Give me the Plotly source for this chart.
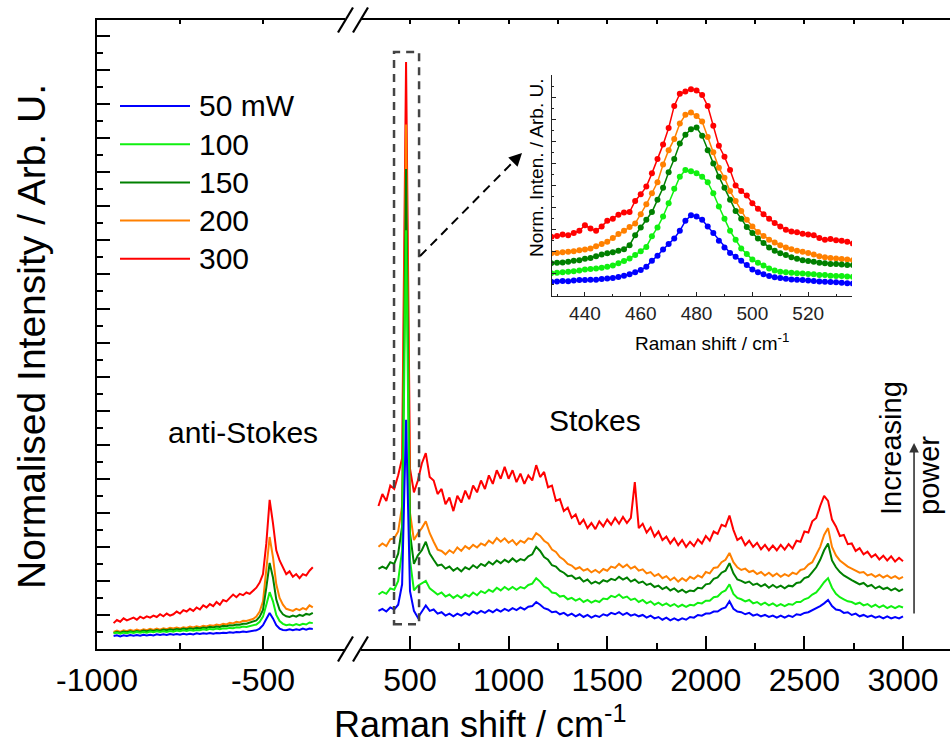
import numpy as np
import plotly.graph_objects as go

# ---------------------------------------------------------------------------
# Raman spectra of the sample at five laser powers (normalised, offset)
# ---------------------------------------------------------------------------
powers = ["50 mW", "100", "150", "200", "300"]
colors = ["#0000FF", "#10F010", "#008000", "#FF8000", "#FF0000"]

# Stokes side, 340 ... 3000 cm-1 every 20 cm-1
stokes_shift = np.arange(340, 3001, 20)
stokes_50 = [
    1.12, 1.18, 1.1, 1.22, 1.16, 1.3, 1.9, 6.73, 1.7, 1.12,
    0.92, 1.1, 1.28, 1.12, 1.16, 1.04, 1.08, 0.98, 1.04, 0.96,
    1.04, 0.98, 1.06, 1.0, 1.1, 1.04, 1.12, 1.06, 1.14, 1.08,
    1.16, 1.1, 1.18, 1.12, 1.2, 1.14, 1.22, 1.16, 1.24, 1.26,
    1.38, 1.3, 1.2, 1.16, 1.08, 1.1, 1.02, 1.06, 0.98, 1.04,
    0.96, 1.02, 0.94, 1.0, 0.92, 0.98, 0.94, 1.02, 0.98, 1.06,
    1.02, 1.08, 1.0, 1.06, 0.98, 1.02, 0.96, 1.0, 0.92, 0.98,
    0.9, 0.94, 0.86, 0.92, 0.84, 0.9, 0.84, 0.9, 0.86, 0.94,
    0.92, 1.0, 0.98, 1.04, 1.04, 1.1, 1.1, 1.18, 1.22, 1.4,
    1.18, 1.1, 1.08, 1.02, 1.06, 0.98, 1.02, 0.96, 1.0, 0.94,
    0.98, 0.92, 0.98, 0.92, 0.98, 0.94, 1.02, 1.0, 1.06, 1.08,
    1.14, 1.18, 1.26, 1.34, 1.44, 1.26, 1.16, 1.14, 1.06, 1.08,
    1.0, 1.04, 0.96, 1.0, 0.94, 0.98, 0.92, 0.96, 0.9, 0.96,
    0.9, 0.94, 0.9, 0.96,
]
stokes_100 = [
    1.6, 1.68, 1.62, 1.78, 1.74, 2.0, 2.9, 12.3, 2.6, 1.72,
    1.86, 1.92, 2.0, 1.78, 1.7, 1.6, 1.66, 1.54, 1.6, 1.5,
    1.58, 1.5, 1.6, 1.54, 1.66, 1.58, 1.7, 1.64, 1.74, 1.68,
    1.8, 1.72, 1.82, 1.74, 1.82, 1.74, 1.82, 1.78, 1.88, 1.92,
    2.08, 1.98, 1.84, 1.78, 1.66, 1.64, 1.54, 1.56, 1.46, 1.5,
    1.42, 1.48, 1.38, 1.44, 1.36, 1.42, 1.38, 1.48, 1.46, 1.56,
    1.52, 1.6, 1.5, 1.54, 1.44, 1.48, 1.38, 1.44, 1.34, 1.4,
    1.3, 1.36, 1.28, 1.34, 1.26, 1.32, 1.24, 1.3, 1.24, 1.3,
    1.28, 1.36, 1.34, 1.42, 1.42, 1.52, 1.54, 1.66, 1.72, 1.9,
    1.62, 1.5, 1.46, 1.4, 1.44, 1.34, 1.38, 1.3, 1.36, 1.28,
    1.34, 1.26, 1.32, 1.26, 1.32, 1.3, 1.38, 1.38, 1.46, 1.5,
    1.6, 1.66, 1.8, 1.96, 2.08, 1.8, 1.62, 1.52, 1.46, 1.4,
    1.38, 1.32, 1.36, 1.28, 1.32, 1.24, 1.3, 1.22, 1.28, 1.2,
    1.26, 1.2, 1.26, 1.22,
]
stokes_150 = [
    2.35, 2.42, 2.36, 2.55, 2.5, 2.8, 3.6, 14.1, 3.4, 2.5,
    2.75, 2.9, 3.15, 2.8, 2.62, 2.45, 2.48, 2.36, 2.42, 2.3,
    2.38, 2.28, 2.4, 2.34, 2.46, 2.38, 2.5, 2.44, 2.56, 2.48,
    2.6, 2.52, 2.62, 2.55, 2.66, 2.56, 2.64, 2.6, 2.72, 2.78,
    3.0, 2.88, 2.7, 2.62, 2.46, 2.42, 2.3, 2.24, 2.14, 2.16,
    2.06, 2.1, 1.98, 2.04, 1.92, 1.98, 1.92, 2.02, 1.98, 2.06,
    2.02, 2.12, 2.04, 2.1, 1.98, 2.04, 1.94, 1.98, 1.88, 1.92,
    1.82, 1.86, 1.76, 1.82, 1.72, 1.78, 1.68, 1.74, 1.66, 1.72,
    1.7, 1.8, 1.78, 1.9, 1.92, 2.06, 2.1, 2.24, 2.3, 2.52,
    2.22, 2.04, 2.0, 1.94, 1.98, 1.88, 1.92, 1.84, 1.9, 1.8,
    1.88, 1.8, 1.86, 1.78, 1.86, 1.84, 1.94, 1.96, 2.08, 2.12,
    2.26, 2.4, 2.62, 2.9, 3.1, 2.6, 2.4, 2.26, 2.16, 2.08,
    2.02, 1.96, 1.9, 1.94, 1.84, 1.88, 1.78, 1.84, 1.76, 1.8,
    1.72, 1.78, 1.7, 1.76,
]
stokes_200 = [
    3.0, 3.1, 3.02, 3.22, 3.25, 3.45, 4.2, 15.4, 4.0, 3.2,
    3.4, 3.55, 3.75, 3.4, 3.15, 2.92, 2.88, 2.78, 2.9, 2.82,
    2.98, 2.88, 3.02, 2.94, 3.06, 2.98, 3.1, 3.04, 3.18, 3.1,
    3.26, 3.15, 3.25, 3.12, 3.2, 3.06, 3.18, 3.12, 3.25, 3.22,
    3.4, 3.32, 3.18, 3.1, 2.92, 2.85, 2.7, 2.62, 2.5, 2.45,
    2.35, 2.4, 2.3, 2.35, 2.25, 2.32, 2.24, 2.35, 2.3, 2.42,
    2.38, 2.5, 2.4, 2.48, 2.36, 2.42, 2.3, 2.34, 2.22, 2.26,
    2.14, 2.2, 2.08, 2.14, 2.02, 2.1, 1.98, 2.08, 2.0, 2.12,
    2.06, 2.16, 2.1, 2.26, 2.22, 2.38, 2.4, 2.55, 2.62, 2.82,
    2.55, 2.4, 2.32, 2.36, 2.26, 2.3, 2.2, 2.26, 2.16, 2.24,
    2.14, 2.22, 2.12, 2.2, 2.14, 2.24, 2.2, 2.32, 2.35, 2.48,
    2.55, 2.78, 3.0, 3.35, 3.55, 3.0, 2.75, 2.6, 2.5, 2.42,
    2.36, 2.3, 2.24, 2.26, 2.16, 2.2, 2.12, 2.18, 2.1, 2.16,
    2.08, 2.14, 2.06, 2.12,
]
stokes_300 = [
    4.2, 4.55, 4.35, 4.8, 4.7, 5.1, 5.6, 17.24, 5.3, 4.6,
    4.95, 5.45, 5.75, 5.05, 4.95, 4.55, 4.7, 4.25, 4.45, 4.05,
    4.5, 4.3, 4.65, 4.4, 4.8, 4.6, 4.95, 4.7, 5.1, 4.85,
    5.25, 5.0, 5.35, 5.0, 5.25, 4.9, 5.15, 4.85, 5.1, 4.95,
    5.4, 5.05, 5.2, 4.75, 4.8, 4.35, 4.4, 4.05, 4.15, 3.85,
    3.95, 3.65, 3.8, 3.55, 3.7, 3.52, 3.75, 3.6, 3.8, 3.65,
    3.85, 3.68, 3.88, 3.7, 3.85, 4.9, 3.55, 3.68, 3.42, 3.57,
    3.3, 3.45, 3.2, 3.3, 3.1, 3.25, 3.05, 3.2, 3.0, 3.15,
    3.02, 3.22, 3.1, 3.32, 3.18, 3.45, 3.38, 3.65, 3.6, 3.92,
    3.5, 3.2, 3.28, 3.05, 3.18, 3.0, 3.12, 2.93, 3.06, 2.9,
    3.04, 2.9, 3.06, 2.92, 3.08, 2.95, 3.18, 3.15, 3.45, 3.42,
    3.75, 3.85, 4.2, 4.5, 4.35, 3.8, 3.6, 3.32, 3.35, 3.08,
    3.1, 2.88, 2.96, 2.78, 2.86, 2.7, 2.78, 2.63, 2.74, 2.6,
    2.72, 2.57, 2.68, 2.58,
]

# anti-Stokes side, -950 ... -350 cm-1 every 10 cm-1
anti_shift = np.arange(-950, -349, 10)
anti_50 = [
    0.38, 0.4, 0.37, 0.4, 0.38, 0.41, 0.39, 0.41, 0.39, 0.42,
    0.4, 0.42, 0.4, 0.43, 0.41, 0.43, 0.41, 0.44, 0.42, 0.44,
    0.42, 0.45, 0.43, 0.45, 0.43, 0.46, 0.44, 0.46, 0.45, 0.47,
    0.45, 0.47, 0.46, 0.48, 0.47, 0.49, 0.48, 0.5, 0.49, 0.51,
    0.5, 0.52, 0.53, 0.55, 0.6, 0.7, 0.88, 1.06, 0.9, 0.7,
    0.6, 0.56, 0.55, 0.58, 0.55, 0.58, 0.56, 0.6, 0.57, 0.6,
    0.59,
]
anti_100 = [
    0.46, 0.48, 0.45, 0.48, 0.46, 0.49, 0.47, 0.5, 0.48, 0.5,
    0.48, 0.51, 0.49, 0.52, 0.5, 0.52, 0.5, 0.53, 0.51, 0.54,
    0.52, 0.55, 0.53, 0.56, 0.54, 0.56, 0.55, 0.58, 0.56, 0.59,
    0.57, 0.6, 0.58, 0.61, 0.6, 0.62, 0.61, 0.64, 0.63, 0.66,
    0.65, 0.67, 0.69, 0.72, 0.8, 0.95, 1.3, 1.67, 1.4, 1.0,
    0.82, 0.74, 0.7, 0.72, 0.69, 0.73, 0.7, 0.74, 0.72, 0.78,
    0.76,
]
anti_150 = [
    0.47, 0.5, 0.48, 0.51, 0.49, 0.52, 0.5, 0.53, 0.51, 0.54,
    0.52, 0.55, 0.53, 0.56, 0.54, 0.57, 0.55, 0.58, 0.56, 0.59,
    0.57, 0.6, 0.58, 0.61, 0.59, 0.62, 0.6, 0.63, 0.62, 0.65,
    0.63, 0.66, 0.65, 0.68, 0.67, 0.7, 0.69, 0.72, 0.71, 0.74,
    0.74, 0.77, 0.79, 0.84, 0.95, 1.15, 1.8, 2.53, 2.1, 1.45,
    1.15, 1.02, 0.96, 0.94, 0.98, 0.95, 1.0, 0.97, 1.03, 1.01,
    1.06,
]
anti_200 = [
    0.5, 0.54, 0.5, 0.55, 0.52, 0.56, 0.53, 0.57, 0.54, 0.58,
    0.55, 0.59, 0.56, 0.6, 0.57, 0.61, 0.58, 0.62, 0.6, 0.63,
    0.6, 0.64, 0.62, 0.66, 0.63, 0.67, 0.64, 0.68, 0.66, 0.7,
    0.68, 0.72, 0.7, 0.74, 0.72, 0.77, 0.75, 0.8, 0.78, 0.83,
    0.82, 0.86, 0.88, 0.95, 1.1, 1.4, 2.3, 3.29, 2.7, 1.9,
    1.5, 1.3, 1.18, 1.15, 1.12, 1.18, 1.14, 1.2, 1.16, 1.28,
    1.22,
]
anti_300 = [
    0.76, 0.85, 0.8, 0.9, 0.84, 0.88, 0.92, 0.86, 0.95, 0.9,
    0.96, 0.92, 0.98, 0.94, 1.02, 0.96, 1.04, 0.98, 1.02, 1.1,
    1.04, 1.14, 1.1, 1.18, 1.12, 1.22, 1.16, 1.28, 1.22, 1.32,
    1.26, 1.38, 1.3, 1.44, 1.4, 1.5, 1.6, 1.52, 1.62, 1.58,
    1.66, 1.62, 1.72, 1.8, 1.95, 2.2, 3.1, 4.38, 3.7, 2.9,
    2.6, 2.4, 2.2, 2.28, 2.12, 2.2, 2.08, 2.2, 2.16, 2.3,
    2.4,
]

# zoom on the 480 cm-1 band, 428 ... 536 cm-1 every 2 cm-1
inset_shift = np.arange(428, 537, 2)
inset_50 = [
    0.65, 0.66, 0.68, 0.67, 0.7, 0.72, 0.72, 0.73, 0.74, 0.77,
    0.79, 0.82, 0.86, 0.92, 0.98, 1.07, 1.18, 1.32, 1.6, 1.82,
    2.1, 2.35, 2.6, 2.95, 3.4, 3.65, 3.6, 3.45, 3.15, 2.85,
    2.5, 2.2, 1.95, 1.78, 1.6, 1.4, 1.2, 1.08, 0.98, 0.9,
    0.85, 0.82, 0.78, 0.75, 0.73, 0.72, 0.7, 0.68, 0.66, 0.65,
    0.63, 0.62, 0.6, 0.58, 0.57,
]
inset_100 = [
    1.03, 1.05, 1.08, 1.1, 1.12, 1.15, 1.2, 1.22, 1.25, 1.28,
    1.32, 1.38, 1.48, 1.58, 1.7, 1.85, 2.02, 2.22, 2.7, 3.1,
    3.6, 4.2, 4.85, 5.4, 5.7, 5.65, 5.55, 5.4, 5.15, 4.65,
    4.05, 3.5, 2.95, 2.55, 2.15, 1.9, 1.65, 1.5, 1.38, 1.25,
    1.15, 1.1, 1.08, 1.05, 1.03, 1.02, 1.0, 0.98, 0.95, 0.95,
    0.92, 0.9, 0.9, 0.88, 0.87,
]
inset_150 = [
    1.48, 1.5, 1.52, 1.55, 1.6, 1.62, 1.68, 1.72, 1.8, 1.88,
    1.93, 1.98, 2.05, 2.12, 2.3, 2.75, 3.1, 3.45, 3.8, 4.35,
    4.9, 5.6, 6.2, 6.9, 7.3, 7.55, 7.62, 7.25, 6.6, 6.0,
    5.4, 4.9, 4.35, 3.85, 3.5, 3.12, 2.85, 2.6, 2.4, 2.2,
    2.05, 1.93, 1.85, 1.75, 1.68, 1.62, 1.58, 1.55, 1.5, 1.48,
    1.45, 1.45, 1.42, 1.4, 1.4,
]
inset_200 = [
    1.93, 1.95, 1.98, 2.0, 2.03, 2.07, 2.1, 2.15, 2.25, 2.35,
    2.45, 2.62, 2.8, 2.95, 3.12, 3.28, 3.7, 4.15, 4.65, 5.15,
    5.95, 6.6, 7.1, 7.8, 8.2, 8.3, 8.15, 7.9, 7.2, 6.5,
    5.8, 5.35, 4.75, 4.3, 3.85, 3.45, 3.15, 2.9, 2.72, 2.55,
    2.42, 2.3, 2.2, 2.12, 2.05, 2.0, 1.95, 1.88, 1.8, 1.75,
    1.72, 1.7, 1.67, 1.65, 1.62,
]
inset_300 = [
    2.68, 2.72, 2.78, 2.75, 2.85, 2.95, 3.2, 3.05, 2.95, 3.15,
    3.4, 3.5, 3.68, 3.78, 3.8, 4.3, 4.6, 4.95, 5.55, 6.2,
    6.85, 7.6, 8.6, 9.15, 9.25, 9.35, 9.3, 9.1, 8.6, 7.7,
    6.8, 6.3, 5.7, 5.0, 4.75, 4.55, 4.2, 3.95, 3.7, 3.5,
    3.3, 3.15, 3.0, 2.92, 2.88, 2.82, 2.78, 2.75, 2.62, 2.55,
    2.58, 2.52, 2.5, 2.45, 2.38,
]

stokes = [stokes_50, stokes_100, stokes_150, stokes_200, stokes_300]
anti = [anti_50, anti_100, anti_150, anti_200, anti_300]
inset = [inset_50, inset_100, inset_150, inset_200, inset_300]

# ---------------------------------------------------------------------------
W, H = 950, 747
ML, MR, MT, MB = 97, 0, 20, 98
PW, PH = W - ML - MR, H - MT - MB


def fx(p):
    """page pixel column -> paper x"""
    return (p - ML) / PW


def fy(p):
    """page pixel row -> paper y"""
    return (H - MB - p) / PH


FONT = "Liberation Sans, Arial, sans-serif"
fig = go.Figure()

# highest power drawn first so the low-power traces sit on top
for i in reversed(range(5)):
    fig.add_trace(go.Scatter(x=anti_shift, y=anti[i], mode="lines",
                             line=dict(color=colors[i], width=2),
                             xaxis="x", yaxis="y", showlegend=False))
    fig.add_trace(go.Scatter(x=stokes_shift, y=stokes[i], mode="lines",
                             line=dict(color=colors[i], width=2),
                             xaxis="x2", yaxis="y", showlegend=False))
    fig.add_trace(go.Scatter(x=inset_shift, y=inset[i], mode="lines+markers",
                             line=dict(color=colors[i], width=1.5),
                             marker=dict(color=colors[i], size=6),
                             xaxis="x5", yaxis="y2", showlegend=False))

# empty traces so the top tick axes get drawn
fig.add_trace(go.Scatter(x=[], y=[], xaxis="x3", yaxis="y", showlegend=False))
fig.add_trace(go.Scatter(x=[], y=[], xaxis="x4", yaxis="y", showlegend=False))

left_dom = [0.0, fx(345)]
right_dom = [fx(361), 1.0]
left_rng = [-1000, -1000 + (345 - ML) / 0.332]
right_rng = [500 - (410 - 361) / 0.1972, 500 + (W - 410) / 0.1972]

axis_common = dict(showline=True, linecolor="black", linewidth=2,
                   showgrid=False, zeroline=False, ticks="inside",
                   tickcolor="black", tickwidth=2, ticklen=13,
                   tickfont=dict(family=FONT, size=32, color="black"),
                   ticklabelstandoff=2)

fig.update_layout(
    width=W, height=H,
    margin=dict(l=ML, r=MR, t=MT, b=MB),
    paper_bgcolor="white", plot_bgcolor="white",
    showlegend=False,
    xaxis=dict(domain=left_dom, range=left_rng, anchor="y",
               tickvals=[-1000, -500], ticktext=["-1000", "-500"],
               minor=dict(tickvals=[-750], ticks="inside", ticklen=6,
                          tickwidth=2, tickcolor="black"),
               **axis_common),
    xaxis2=dict(domain=right_dom, range=right_rng, anchor="y",
                tickvals=[500, 1000, 1500, 2000, 2500, 3000],
                minor=dict(tickvals=[750, 1250, 1750, 2250, 2750],
                           ticks="inside", ticklen=6, tickwidth=2,
                           tickcolor="black"),
                **axis_common),
    xaxis3=dict(domain=left_dom, range=left_rng, anchor="y", overlaying="x",
                side="top", showline=True, linecolor="black", linewidth=2,
                ticks="inside", ticklen=4, tickwidth=1.5, tickcolor="black",
                tickvals=[-750, -500], showticklabels=False,
                showgrid=False, zeroline=False),
    xaxis4=dict(domain=right_dom, range=right_rng, anchor="y",
                overlaying="x2", side="top", showline=True,
                linecolor="black", linewidth=2, ticks="inside", ticklen=4,
                tickwidth=1.5, tickcolor="black",
                tickvals=[500, 750, 1000, 1250, 1500, 1750, 2000, 2250,
                          2500, 2750, 3000],
                showticklabels=False, showgrid=False, zeroline=False),
    yaxis=dict(domain=[0, 1], range=[0, (H - MB - MT) / 34.05], anchor="x",
               showline=True, linecolor="black", linewidth=2,
               ticks="inside", ticklen=13, tickwidth=2, tickcolor="black",
               tick0=0, dtick=1, showticklabels=False,
               minor=dict(ticks="inside", ticklen=6, tickwidth=2,
                          dtick=0.5, tick0=0, tickcolor="black"),
               showgrid=False, zeroline=False),
    # inset
    xaxis5=dict(domain=[fx(552), fx(852)], range=[428.2, 535.7],
                anchor="y2", showline=True, linecolor="#222", linewidth=1,
                ticks="inside", ticklen=4, tickwidth=1, tickcolor="#222",
                tickvals=[440, 460, 480, 500, 520],
                minor=dict(tickvals=[430, 450, 470, 490, 510, 530],
                           ticks="inside", ticklen=2, tickwidth=1,
                           tickcolor="#222"),
                tickfont=dict(family=FONT, size=19, color="#222"),
                ticklabelstandoff=0,
                showgrid=False, zeroline=False),
    yaxis2=dict(domain=[fy(296), fy(75)], range=[0, 10], anchor="x5",
                showline=True, linecolor="#222", linewidth=1,
                ticks="inside", ticklen=4, tickwidth=1, tickcolor="#222",
                tick0=0, dtick=1, showticklabels=False,
                minor=dict(ticks="inside", ticklen=2, tickwidth=1,
                           dtick=0.5, tick0=0, tickcolor="#222"),
                showgrid=False, zeroline=False),
)

shapes = []
annotations = []

# axis-break marks on the bottom and top frame lines
for yb in (H - MB, MT):
    for xc in (345.5, 360.5):
        shapes.append(dict(type="line", xref="paper", yref="paper",
                           x0=fx(xc - 7.5), y0=fy(yb + 12.5),
                           x1=fx(xc + 7.5), y1=fy(yb - 12.5),
                           line=dict(color="black", width=2.2)))

# dashed box around the 480 cm-1 band
shapes.append(dict(type="rect", xref="x2", yref="y",
                   x0=419, x1=546, y0=0.73, y1=17.53,
                   line=dict(color="#444", width=2.5, dash="8px,6px")))

# dashed pointer from the box to the inset
shapes.append(dict(type="line", xref="x2", yref="y",
                   x0=551, y0=11.54, x1=1017, y1=14.27,
                   line=dict(color="black", width=2, dash="9px,6px")))
annotations.append(dict(x=1068, y=14.57, xref="x2", yref="y",
                        ax=1017, ay=14.27, axref="x2", ayref="y",
                        text="", showarrow=True, arrowhead=2,
                        arrowsize=1.3, arrowwidth=2, arrowcolor="black"))

# "increasing power" arrow
annotations.append(dict(x=3056, y=6.05, xref="x2", yref="y",
                        ax=3056, ay=1.0, axref="x2", ayref="y",
                        text="", showarrow=True, arrowhead=2,
                        arrowsize=1.2, arrowwidth=1.6, arrowcolor="#333"))

# legend
for i, (name, col) in enumerate(zip(powers, colors)):
    row = 106 + 38.2 * i
    shapes.append(dict(type="line", xref="paper", yref="paper",
                       x0=fx(120), x1=fx(190), y0=fy(row), y1=fy(row),
                       line=dict(color=col, width=2)))
    annotations.append(dict(x=fx(197), y=fy(row), xref="paper",
                            yref="paper", text=name, showarrow=False,
                            xanchor="left", yanchor="middle",
                            font=dict(family=FONT, size=30, color="black")))


def label(text, x, y, size, angle=0, align="center"):
    annotations.append(dict(x=fx(x), y=fy(y), xref="paper", yref="paper",
                            text=text, showarrow=False, textangle=angle,
                            xanchor="center", yanchor="middle", align=align,
                            font=dict(family=FONT, size=size, color="black")))


label("anti-Stokes", 243, 432, 30)
label("Stokes", 595, 420, 30)
label("Increasing<br>power", 910, 448, 29, angle=-90, align="left")
label("Normalised Intensity / Arb. U.", 31, 337, 39, angle=-90)
label("Raman shift / cm<sup>-1</sup>", 480, 722, 36)
label("Norm. Inten. / Arb. U.", 536, 168, 19, angle=-90)
label("Raman shift / cm<sup>-1</sup>", 712, 342, 19)

fig.update_layout(shapes=shapes, annotations=annotations)
fig.write_html("out.html")
